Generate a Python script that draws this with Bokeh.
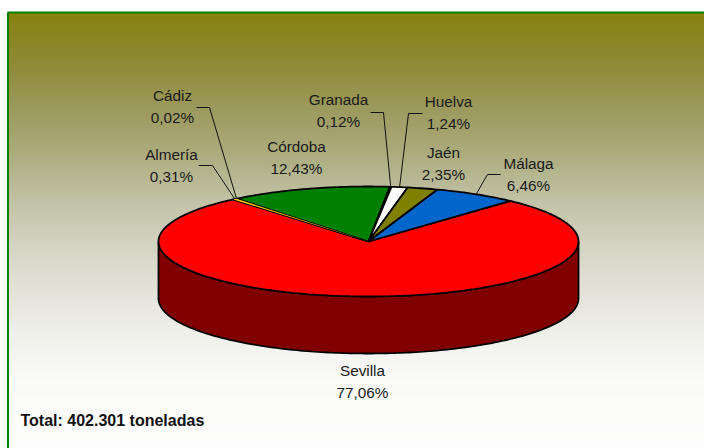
import numpy as np
from bokeh.plotting import figure
from bokeh.models import Range1d
from bokeh.core.properties import value
from bokeh.embed import file_html
from bokeh.resources import INLINE

# data
names = ["Sevilla", "Almería", "Cádiz", "Córdoba", "Granada", "Huelva", "Jaén", "Málaga"]
shares = [77.06, 0.31, 0.02, 12.43, 0.12, 1.24, 2.35, 6.46]
total_text = "Total: 402.301 toneladas"

# styles
slice_colors = ["#FF0000", "#FFCC00", "#808000", "#008000", "#FFFFFF", "#FFFFFF", "#808000", "#0066CC"]
wall_color = "#800000"
FONT = "Liberation Sans"
FS = "15.3px"

# layout (reference pixels)
cx, cy, rx, ry, depth = 368.0, 241.0, 210.0, 55.0, 57.0
start_deg = 42.5
label_x = [362, 171, 172, 296, 338, 448, 443, 528]
label_y = [370, 154, 95, 146, 99, 101, 152, 163]
line_gap = 21.5
elbows = {"Almería": (198, 212, 165), "Cádiz": (196, 209, 107),
          "Granada": (370, 383, 112), "Huelva": (422, 408, 113), "Málaga": (500, 487, 174)}
grad_y = [12, 60, 110, 150, 200, 260, 330, 380, 448]
grad_r = [128, 135, 150, 165, 190, 215, 238, 250, 254]
grad_g = [122, 130, 148, 165, 190, 215, 238, 250, 254]
grad_b = [0, 40, 85, 115, 160, 200, 232, 248, 254]

p = figure(width=704, height=448, x_range=Range1d(0, 704), y_range=Range1d(448, 0),
           output_backend="svg", toolbar_location=None, min_border=0, outline_line_color=None)
p.axis.visible = False
p.grid.visible = False
p.background_fill_color = "white"
p.border_fill_color = "white"

# background gradient
ys = np.arange(12, 448, 1.0)
rr = np.interp(ys, grad_y, grad_r)
gg = np.interp(ys, grad_y, grad_g)
bb = np.interp(ys, grad_y, grad_b)
cols = ["#%02x%02x%02x" % (int(r), int(g), int(b)) for r, g, b in zip(rr, gg, bb)]
p.quad(left=8, right=704, top=ys, bottom=ys + 1, fill_color=cols, line_color=cols, line_width=0.5)
# border
p.line([7.5, 7.5], [448, 12], line_color="#008000", line_width=2)
p.line([7, 704], [12, 12], line_color="#008000", line_width=2)


def ell(t):
    t = np.radians(t)
    return cx + rx * np.sin(t), cy - ry * np.cos(t)


# wall
t = np.linspace(90, 270, 181)
wx, wy = ell(t)
p.patch(np.r_[wx, wx[::-1]], np.r_[wy + depth, wy[::-1]], fill_color=wall_color,
        line_color="black", line_width=1.8)

# slices
a = start_deg
mids = {}
wedges = {}
for n, s, c in zip(names, shares, slice_colors):
    da = s * 3.6
    tt = np.linspace(a, a + da, max(2, int(da) + 2))
    x, y = ell(tt)
    wedges[n] = (np.r_[cx, x], np.r_[cy, y], c)
    p.patch(wedges[n][0], wedges[n][1], fill_color=c, line_color="black", line_width=1.8)
    mids[n] = a + da / 2
    a += da

# the thin Almería sliver stays visible between its outlines
wx0, wy0, wc = wedges["Almería"]
p.patch(wx0, wy0, fill_color=wc, line_color=None)

# leader lines
for n, (x0, x1, yl) in elbows.items():
    ex, ey = ell(mids[n])
    p.line([x0, x1, ex], [yl, yl, ey], line_color="#111111", line_width=1)

# labels
for n, s, lx, ly in zip(names, shares, label_x, label_y):
    pct = f"{s:.2f}".replace(".", ",") + "%"
    p.text([lx, lx], [ly, ly + line_gap], text=[n, pct], text_align="center", text_baseline="middle",
           text_font=value(FONT), text_font_size=FS, text_color="#1a1a1a")
p.text([20], [420], text=[total_text], text_align="left", text_baseline="middle",
       text_font=value(FONT), text_font_size="16px", text_font_style="bold", text_color="#111111")

open("out.html", "w").write(file_html(p, INLINE))
